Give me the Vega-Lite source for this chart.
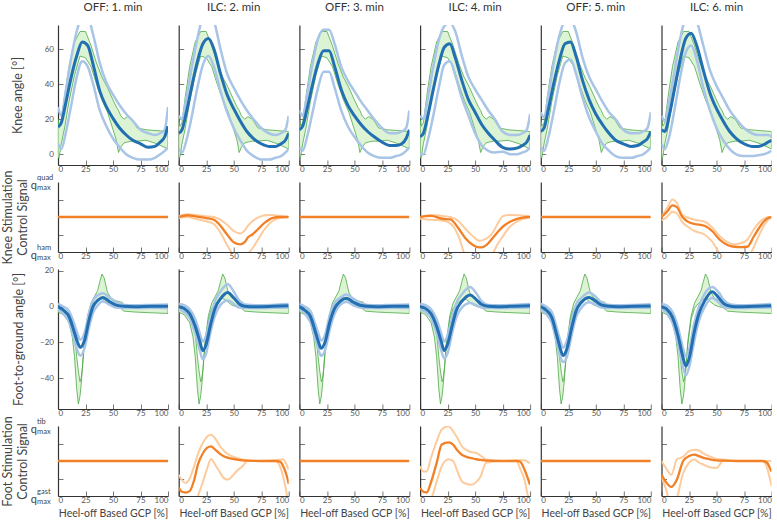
{
"$schema":"https://vega.github.io/schema/vega-lite/v6.json",
"padding":{"left":0,"top":1,"right":0,"bottom":0},
"bounds":"flush",
"columns":6,
"spacing":{"row":17,"column":10.7},
"config":{
 "view":{"stroke":null},
 "font":"Lato",
 "axis":{"grid":false,"domainColor":"#333","domainWidth":1.2,"tickColor":"#777","tickSize":-5,"tickWidth":1,"labelFontSize":8,"labelColor":"#555","labelPadding":9.5,"titleFontSize":12.5,"titleFontWeight":"normal","titleColor":"#444"},
 "axisX":{"labelPadding":5},
 "title":{"fontSize":11.5,"fontWeight":"normal","color":"#333","offset":12},
 "style":{"group-title":{"fontSize":11.5,"fontWeight":"normal","color":"#333"}}
},
"datasets":{
"kg":[{"x":0,"lo":-2,"hi":20},{"x":1,"lo":-2,"hi":16},{"x":3,"lo":6,"hi":18},{"x":6,"lo":15,"hi":33},{"x":10,"lo":30,"hi":50},{"x":15,"lo":45,"hi":64},{"x":20,"lo":56,"hi":70},{"x":25,"lo":55,"hi":70},{"x":30,"lo":50,"hi":62},{"x":35,"lo":40,"hi":52},{"x":40,"lo":31,"hi":44},{"x":45,"lo":24,"hi":38},{"x":50,"lo":14,"hi":31},{"x":53,"lo":8,"hi":27},{"x":55,"lo":1,"hi":25},{"x":57,"lo":4,"hi":22},{"x":60,"lo":6.5,"hi":20},{"x":63,"lo":7,"hi":21.5},{"x":67,"lo":7.5,"hi":20},{"x":72,"lo":7.5,"hi":15},{"x":80,"lo":8,"hi":14},{"x":90,"lo":6,"hi":13.5},{"x":100,"lo":3,"hi":13}],
"k":[
{"c":1,"x":0,"m":15.5,"lo":6,"hi":27},{"c":1,"x":3,"m":18,"lo":3,"hi":22},{"c":1,"x":7,"m":29,"lo":12,"hi":36},{"c":1,"x":12,"m":44,"lo":28,"hi":55},{"c":1,"x":17,"m":56,"lo":44,"hi":70},{"c":1,"x":22,"m":64,"lo":53,"hi":78},{"c":1,"x":27,"m":62,"lo":50,"hi":78},{"c":1,"x":32,"m":51,"lo":40,"hi":68},{"c":1,"x":38,"m":36,"lo":25,"hi":52},{"c":1,"x":44,"m":27,"lo":16,"hi":41},{"c":1,"x":50,"m":20.5,"lo":9,"hi":34},{"c":1,"x":56,"m":15,"lo":4,"hi":28},{"c":1,"x":62,"m":11,"lo":0,"hi":23},{"c":1,"x":68,"m":8,"lo":-2,"hi":19},{"c":1,"x":75,"m":6,"lo":-3,"hi":14},{"c":1,"x":82,"m":4,"lo":-3,"hi":12},{"c":1,"x":88,"m":4.5,"lo":-2,"hi":11},{"c":1,"x":93,"m":7,"lo":0,"hi":12},{"c":1,"x":97,"m":10,"lo":2,"hi":14},{"c":1,"x":100,"m":16,"lo":4,"hi":27},
{"c":2,"x":0,"m":12,"lo":3,"hi":22},{"c":2,"x":3,"m":14,"lo":1,"hi":20},{"c":2,"x":7,"m":24,"lo":8,"hi":32},{"c":2,"x":12,"m":39,"lo":22,"hi":50},{"c":2,"x":17,"m":53,"lo":38,"hi":66},{"c":2,"x":22,"m":63,"lo":51,"hi":78},{"c":2,"x":27,"m":66,"lo":56,"hi":80},{"c":2,"x":32,"m":60,"lo":50,"hi":76},{"c":2,"x":38,"m":46,"lo":36,"hi":60},{"c":2,"x":44,"m":34,"lo":24,"hi":46},{"c":2,"x":50,"m":26,"lo":15,"hi":38},{"c":2,"x":56,"m":19,"lo":8,"hi":31},{"c":2,"x":62,"m":13,"lo":2,"hi":25},{"c":2,"x":68,"m":9,"lo":-1,"hi":20},{"c":2,"x":75,"m":6,"lo":-3,"hi":15},{"c":2,"x":82,"m":4.5,"lo":-3,"hi":12},{"c":2,"x":88,"m":4.5,"lo":-2,"hi":11},{"c":2,"x":93,"m":6,"lo":-1,"hi":12},{"c":2,"x":97,"m":8,"lo":1,"hi":14},{"c":2,"x":100,"m":12,"lo":3,"hi":22},
{"c":3,"x":0,"m":14,"lo":4,"hi":25},{"c":3,"x":3,"m":16,"lo":2,"hi":22},{"c":3,"x":7,"m":26,"lo":10,"hi":34},{"c":3,"x":12,"m":40,"lo":24,"hi":52},{"c":3,"x":17,"m":52,"lo":38,"hi":66},{"c":3,"x":22,"m":59,"lo":47,"hi":71},{"c":3,"x":27,"m":59,"lo":47,"hi":71},{"c":3,"x":32,"m":50,"lo":38,"hi":63},{"c":3,"x":38,"m":37,"lo":25,"hi":50},{"c":3,"x":44,"m":28,"lo":16,"hi":42},{"c":3,"x":50,"m":22,"lo":10,"hi":36},{"c":3,"x":56,"m":17,"lo":5,"hi":30},{"c":3,"x":62,"m":13,"lo":1,"hi":25},{"c":3,"x":68,"m":10,"lo":-1,"hi":20},{"c":3,"x":75,"m":7,"lo":-2,"hi":15},{"c":3,"x":82,"m":5,"lo":-2,"hi":12},{"c":3,"x":88,"m":5,"lo":-1,"hi":12},{"c":3,"x":93,"m":6,"lo":0,"hi":13},{"c":3,"x":97,"m":9,"lo":2,"hi":15},{"c":3,"x":100,"m":14,"lo":4,"hi":25},
{"c":4,"x":0,"m":10,"lo":0,"hi":22},{"c":4,"x":3,"m":12,"lo":0,"hi":20},{"c":4,"x":7,"m":22,"lo":8,"hi":32},{"c":4,"x":12,"m":37,"lo":22,"hi":50},{"c":4,"x":17,"m":51,"lo":38,"hi":65},{"c":4,"x":22,"m":61,"lo":51,"hi":73},{"c":4,"x":27,"m":63,"lo":53,"hi":75},{"c":4,"x":32,"m":55,"lo":45,"hi":70},{"c":4,"x":38,"m":42,"lo":32,"hi":56},{"c":4,"x":44,"m":31,"lo":22,"hi":44},{"c":4,"x":50,"m":24,"lo":12,"hi":37},{"c":4,"x":56,"m":17,"lo":5,"hi":31},{"c":4,"x":62,"m":12,"lo":2,"hi":25},{"c":4,"x":68,"m":8,"lo":1,"hi":20},{"c":4,"x":75,"m":4,"lo":1.5,"hi":13},{"c":4,"x":82,"m":3,"lo":0,"hi":11},{"c":4,"x":88,"m":3.5,"lo":0,"hi":11},{"c":4,"x":93,"m":5,"lo":1,"hi":12},{"c":4,"x":97,"m":7,"lo":2,"hi":14},{"c":4,"x":100,"m":11,"lo":4,"hi":23},
{"c":5,"x":0,"m":13,"lo":4,"hi":24},{"c":5,"x":3,"m":15,"lo":2,"hi":21},{"c":5,"x":7,"m":26,"lo":10,"hi":34},{"c":5,"x":12,"m":41,"lo":25,"hi":53},{"c":5,"x":17,"m":54,"lo":41,"hi":68},{"c":5,"x":22,"m":63,"lo":52,"hi":76},{"c":5,"x":27,"m":64,"lo":54,"hi":77},{"c":5,"x":32,"m":56,"lo":46,"hi":70},{"c":5,"x":38,"m":42,"lo":32,"hi":55},{"c":5,"x":44,"m":31,"lo":21,"hi":44},{"c":5,"x":50,"m":23,"lo":13,"hi":37},{"c":5,"x":56,"m":17,"lo":6,"hi":30},{"c":5,"x":62,"m":12,"lo":2,"hi":24},{"c":5,"x":68,"m":8,"lo":-1,"hi":20},{"c":5,"x":75,"m":6,"lo":-2,"hi":14},{"c":5,"x":82,"m":4.5,"lo":-2,"hi":12},{"c":5,"x":88,"m":5,"lo":-1,"hi":12},{"c":5,"x":93,"m":7,"lo":0,"hi":13},{"c":5,"x":97,"m":9,"lo":2,"hi":15},{"c":5,"x":100,"m":13,"lo":4,"hi":24},
{"c":6,"x":0,"m":14,"lo":6,"hi":22},{"c":6,"x":3,"m":13,"lo":3,"hi":19},{"c":6,"x":7,"m":22,"lo":10,"hi":30},{"c":6,"x":12,"m":38,"lo":26,"hi":48},{"c":6,"x":17,"m":54,"lo":44,"hi":66},{"c":6,"x":22,"m":66,"lo":58,"hi":78},{"c":6,"x":27,"m":69,"lo":62,"hi":82},{"c":6,"x":32,"m":62,"lo":54,"hi":76},{"c":6,"x":38,"m":48,"lo":38,"hi":62},{"c":6,"x":44,"m":35,"lo":25,"hi":48},{"c":6,"x":50,"m":26,"lo":15,"hi":39},{"c":6,"x":56,"m":19,"lo":8,"hi":32},{"c":6,"x":62,"m":13,"lo":3,"hi":25},{"c":6,"x":68,"m":9,"lo":0,"hi":20},{"c":6,"x":75,"m":6,"lo":-1,"hi":15},{"c":6,"x":82,"m":4.5,"lo":-1,"hi":12},{"c":6,"x":88,"m":4.5,"lo":-0.5,"hi":11},{"c":6,"x":93,"m":5.5,"lo":0,"hi":11},{"c":6,"x":97,"m":7,"lo":1,"hi":11},{"c":6,"x":100,"m":8,"lo":2,"hi":10}
],
"ks":[
{"c":1,"x":0,"m":0},{"c":1,"x":100,"m":0},{"c":3,"x":0,"m":0},{"c":3,"x":100,"m":0},{"c":5,"x":0,"m":0},{"c":5,"x":100,"m":0},
{"c":2,"x":0,"m":0,"hi":0.02,"lo":-0.03},{"c":2,"x":8,"m":0.05,"hi":0.08,"lo":0},{"c":2,"x":15,"m":0.02,"hi":0.06,"lo":-0.05},{"c":2,"x":25,"m":-0.03,"hi":0.02,"lo":-0.12},{"c":2,"x":32,"m":-0.08,"hi":0,"lo":-0.2},{"c":2,"x":38,"m":-0.25,"hi":-0.08,"lo":-0.45},{"c":2,"x":44,"m":-0.5,"hi":-0.22,"lo":-0.8},{"c":2,"x":50,"m":-0.72,"hi":-0.4,"lo":-1.1},{"c":2,"x":56,"m":-0.78,"hi":-0.47,"lo":-1.2},{"c":2,"x":60,"m":-0.72,"hi":-0.38,"lo":-1.15},{"c":2,"x":63,"m":-0.58,"hi":-0.25,"lo":-1.05},{"c":2,"x":67,"m":-0.5,"hi":-0.12,"lo":-0.9},{"c":2,"x":72,"m":-0.35,"hi":-0.02,"lo":-0.65},{"c":2,"x":78,"m":-0.17,"hi":0.05,"lo":-0.35},{"c":2,"x":85,"m":-0.03,"hi":0.06,"lo":-0.12},{"c":2,"x":92,"m":0,"hi":0.03,"lo":-0.03},{"c":2,"x":100,"m":0,"hi":0,"lo":0},
{"c":4,"x":0,"m":0,"hi":0,"lo":-0.05},{"c":4,"x":10,"m":0.03,"hi":0.06,"lo":-0.08},{"c":4,"x":20,"m":-0.05,"hi":0.03,"lo":-0.1},{"c":4,"x":27.5,"m":-0.07,"hi":0,"lo":-0.18},{"c":4,"x":35,"m":-0.33,"hi":-0.12,"lo":-0.55},{"c":4,"x":41,"m":-0.6,"hi":-0.33,"lo":-1.1},{"c":4,"x":48,"m":-0.8,"hi":-0.55,"lo":-1.3},{"c":4,"x":54,"m":-0.87,"hi":-0.68,"lo":-1.3},{"c":4,"x":57,"m":-0.86,"hi":-0.66,"lo":-1.3},{"c":4,"x":62,"m":-0.75,"hi":-0.58,"lo":-1.2},{"c":4,"x":66,"m":-0.6,"hi":-0.45,"lo":-1.05},{"c":4,"x":70,"m":-0.45,"hi":-0.22,"lo":-0.8},{"c":4,"x":75,"m":-0.28,"hi":0.02,"lo":-0.56},{"c":4,"x":81,"m":-0.15,"hi":0.06,"lo":-0.3},{"c":4,"x":87,"m":-0.07,"hi":0.05,"lo":-0.15},{"c":4,"x":93,"m":-0.02,"hi":0.04,"lo":-0.06},{"c":4,"x":98,"m":0,"hi":0.02,"lo":-0.02},{"c":4,"x":100,"m":0,"hi":0,"lo":0},
{"c":6,"x":0,"m":0,"hi":0,"lo":-0.1},{"c":6,"x":5,"m":0.15,"hi":0.25,"lo":0},{"c":6,"x":10,"m":0.33,"hi":0.5,"lo":0.15},{"c":6,"x":14,"m":0.28,"hi":0.4,"lo":0.1},{"c":6,"x":19,"m":0,"hi":0.05,"lo":-0.15},{"c":6,"x":25,"m":-0.15,"hi":-0.03,"lo":-0.3},{"c":6,"x":30,"m":-0.2,"hi":-0.08,"lo":-0.4},{"c":6,"x":39,"m":-0.25,"hi":-0.13,"lo":-0.5},{"c":6,"x":46,"m":-0.4,"hi":-0.3,"lo":-0.7},{"c":6,"x":53,"m":-0.65,"hi":-0.55,"lo":-1.05},{"c":6,"x":60,"m":-0.8,"hi":-0.72,"lo":-1.3},{"c":6,"x":66,"m":-0.85,"hi":-0.78,"lo":-1.3},{"c":6,"x":72,"m":-0.86,"hi":-0.75,"lo":-1.3},{"c":6,"x":78,"m":-0.85,"hi":-0.65,"lo":-1.2},{"c":6,"x":84,"m":-0.55,"hi":-0.35,"lo":-0.85},{"c":6,"x":89,"m":-0.3,"hi":-0.15,"lo":-0.5},{"c":6,"x":93,"m":-0.13,"hi":-0.05,"lo":-0.25},{"c":6,"x":97,"m":-0.03,"hi":0,"lo":-0.08},{"c":6,"x":100,"m":0,"hi":0,"lo":0}
],
"fg":[{"x":0,"lo":-3,"hi":0},{"x":5,"lo":-4.5,"hi":-1},{"x":10,"lo":-9,"hi":-4},{"x":13,"lo":-17,"hi":-8},{"x":15,"lo":-28,"hi":-14},{"x":17,"lo":-46,"hi":-28},{"x":18.5,"lo":-54.5,"hi":-36},{"x":20,"lo":-50,"hi":-42},{"x":21,"lo":-44,"hi":-40},{"x":22,"lo":-36,"hi":-35},{"x":24,"lo":-21,"hi":-19},{"x":27,"lo":-7,"hi":-5},{"x":30,"lo":-1,"hi":2},{"x":33,"lo":1.5,"hi":5.5},{"x":36,"lo":3,"hi":9},{"x":38,"lo":4,"hi":14},{"x":40,"lo":4.5,"hi":18.3},{"x":42,"lo":4,"hi":16},{"x":45,"lo":2.5,"hi":8},{"x":48,"lo":1,"hi":5},{"x":52,"lo":0,"hi":3.5},{"x":56,"lo":-0.5,"hi":2.8},{"x":58,"lo":-1.5,"hi":2.5},{"x":59,"lo":-2,"hi":2},{"x":60,"lo":-2.5,"hi":0},{"x":70,"lo":-3,"hi":0},{"x":80,"lo":-3.3,"hi":0},{"x":100,"lo":-3.8,"hi":0}],
"f":[
{"c":1,"x":0,"m":0,"hi":1.5,"lo":-1.5},{"c":1,"x":5,"m":-2,"hi":0,"lo":-4},{"c":1,"x":10,"m":-5.5,"hi":-2.5,"lo":-8.5},{"c":1,"x":14.7,"m":-14,"hi":-9.5,"lo":-18.5},{"c":1,"x":17.6,"m":-19.6,"hi":-15,"lo":-24.5},{"c":1,"x":20.2,"m":-22.8,"hi":-18.5,"lo":-27.5},{"c":1,"x":24.2,"m":-18.7,"hi":-14.5,"lo":-23},{"c":1,"x":28.2,"m":-7.5,"hi":-3.5,"lo":-11.5},{"c":1,"x":31.8,"m":0,"hi":3.5,"lo":-3.5},{"c":1,"x":36.4,"m":3.7,"hi":6.5,"lo":1},{"c":1,"x":41,"m":5.2,"hi":7.5,"lo":3},{"c":1,"x":47,"m":2.8,"hi":5,"lo":1},{"c":1,"x":53,"m":0.9,"hi":2.5,"lo":-0.5},{"c":1,"x":60,"m":0.2,"hi":1,"lo":-0.7},{"c":1,"x":70,"m":0,"hi":0.8,"lo":-0.8},{"c":1,"x":85,"m":0.3,"hi":1,"lo":-0.6},{"c":1,"x":100,"m":0.3,"hi":1.2,"lo":-0.8},
{"c":2,"x":0,"m":0,"hi":1.5,"lo":-1.5},{"c":2,"x":5,"m":-1,"hi":0.8,"lo":-3},{"c":2,"x":10,"m":-4,"hi":-1.5,"lo":-6.5},{"c":2,"x":15,"m":-11,"hi":-7,"lo":-15},{"c":2,"x":19,"m":-19,"hi":-14.5,"lo":-24},{"c":2,"x":22,"m":-24.6,"hi":-19.5,"lo":-29.5},{"c":2,"x":25,"m":-21,"hi":-16,"lo":-26},{"c":2,"x":29,"m":-10,"hi":-5.5,"lo":-14},{"c":2,"x":33,"m":-1,"hi":3,"lo":-5},{"c":2,"x":38,"m":4.5,"hi":8.5,"lo":1},{"c":2,"x":44.6,"m":8,"hi":12.5,"lo":3.5},{"c":2,"x":50,"m":5,"hi":8.5,"lo":1.5},{"c":2,"x":55,"m":1.5,"hi":3.5,"lo":-0.5},{"c":2,"x":60,"m":0.3,"hi":1.2,"lo":-0.7},{"c":2,"x":70,"m":0,"hi":0.8,"lo":-0.8},{"c":2,"x":85,"m":0.2,"hi":1,"lo":-0.6},{"c":2,"x":100,"m":0.5,"hi":1.5,"lo":-0.5},
{"c":3,"x":0,"m":0,"hi":1.5,"lo":-1.5},{"c":3,"x":5,"m":-2,"hi":0,"lo":-4},{"c":3,"x":10,"m":-5.5,"hi":-2.5,"lo":-8.5},{"c":3,"x":14.5,"m":-14,"hi":-10,"lo":-18},{"c":3,"x":17.5,"m":-20,"hi":-15.5,"lo":-24.5},{"c":3,"x":19.7,"m":-23.3,"hi":-19,"lo":-27.5},{"c":3,"x":23.5,"m":-19.5,"hi":-15.5,"lo":-24},{"c":3,"x":27.5,"m":-9,"hi":-5,"lo":-13},{"c":3,"x":32,"m":-1,"hi":2,"lo":-4},{"c":3,"x":37,"m":3,"hi":5,"lo":1},{"c":3,"x":43,"m":4.7,"hi":6.8,"lo":2.7},{"c":3,"x":49,"m":2.5,"hi":4.5,"lo":0.8},{"c":3,"x":55,"m":0.8,"hi":2.2,"lo":-0.4},{"c":3,"x":62,"m":0.2,"hi":1,"lo":-0.7},{"c":3,"x":70,"m":0,"hi":0.8,"lo":-0.8},{"c":3,"x":85,"m":0.3,"hi":1,"lo":-0.6},{"c":3,"x":100,"m":0.3,"hi":1.2,"lo":-0.8},
{"c":4,"x":0,"m":0,"hi":1.5,"lo":-1.5},{"c":4,"x":5,"m":-1,"hi":0.8,"lo":-3},{"c":4,"x":10,"m":-4,"hi":-1.5,"lo":-6.5},{"c":4,"x":15,"m":-11,"hi":-7,"lo":-15},{"c":4,"x":19,"m":-19,"hi":-14.5,"lo":-24},{"c":4,"x":22,"m":-24.6,"hi":-19.5,"lo":-29},{"c":4,"x":25,"m":-21,"hi":-16,"lo":-26},{"c":4,"x":29,"m":-11,"hi":-6.5,"lo":-15},{"c":4,"x":33,"m":-2,"hi":2,"lo":-6},{"c":4,"x":38,"m":3,"hi":7,"lo":-0.5},{"c":4,"x":45.5,"m":6.6,"hi":11,"lo":2},{"c":4,"x":51,"m":4,"hi":7.5,"lo":0.8},{"c":4,"x":56,"m":1.2,"hi":3,"lo":-0.4},{"c":4,"x":62,"m":0.2,"hi":1,"lo":-0.7},{"c":4,"x":70,"m":0,"hi":0.8,"lo":-0.8},{"c":4,"x":85,"m":0.3,"hi":1,"lo":-0.6},{"c":4,"x":100,"m":0.5,"hi":1.5,"lo":-0.5},
{"c":5,"x":0,"m":0,"hi":1.5,"lo":-1.5},{"c":5,"x":5,"m":-2,"hi":0,"lo":-4},{"c":5,"x":10,"m":-6,"hi":-3,"lo":-9},{"c":5,"x":14.5,"m":-16,"hi":-12,"lo":-20},{"c":5,"x":17.5,"m":-23,"hi":-18.5,"lo":-27.5},{"c":5,"x":20.3,"m":-27.4,"hi":-23,"lo":-31},{"c":5,"x":24,"m":-23,"hi":-18.5,"lo":-27.5},{"c":5,"x":28,"m":-12,"hi":-8,"lo":-16},{"c":5,"x":32,"m":-2.5,"hi":1,"lo":-6},{"c":5,"x":37,"m":2.5,"hi":5,"lo":-0.5},{"c":5,"x":44,"m":5.2,"hi":8,"lo":2.5},{"c":5,"x":50,"m":3,"hi":5.5,"lo":1},{"c":5,"x":55,"m":1,"hi":2.5,"lo":-0.5},{"c":5,"x":62,"m":0.2,"hi":1,"lo":-0.7},{"c":5,"x":70,"m":0,"hi":0.8,"lo":-0.8},{"c":5,"x":85,"m":0.3,"hi":1,"lo":-0.6},{"c":5,"x":100,"m":0.4,"hi":1.3,"lo":-0.6},
{"c":6,"x":0,"m":0,"hi":1.5,"lo":-1.5},{"c":6,"x":5,"m":-1.5,"hi":0.5,"lo":-3.5},{"c":6,"x":10,"m":-6,"hi":-3,"lo":-9},{"c":6,"x":15,"m":-16,"hi":-11.5,"lo":-20.5},{"c":6,"x":19,"m":-27,"hi":-22,"lo":-32},{"c":6,"x":22.2,"m":-33.2,"hi":-28,"lo":-38.5},{"c":6,"x":25.5,"m":-28,"hi":-23,"lo":-33},{"c":6,"x":29.5,"m":-15,"hi":-10,"lo":-20},{"c":6,"x":34,"m":-4,"hi":0,"lo":-8},{"c":6,"x":39,"m":3,"hi":7,"lo":-0.5},{"c":6,"x":46,"m":8.4,"hi":11,"lo":5},{"c":6,"x":52,"m":5,"hi":8,"lo":2.5},{"c":6,"x":57,"m":1.5,"hi":3.5,"lo":-0.3},{"c":6,"x":63,"m":0.3,"hi":1.2,"lo":-0.7},{"c":6,"x":70,"m":0,"hi":0.8,"lo":-0.8},{"c":6,"x":85,"m":0.3,"hi":1,"lo":-0.6},{"c":6,"x":100,"m":0.5,"hi":1.5,"lo":-0.5}
],
"fs":[
{"c":1,"x":0,"m":0},{"c":1,"x":100,"m":0},{"c":3,"x":0,"m":0},{"c":3,"x":100,"m":0},{"c":5,"x":0,"m":0},{"c":5,"x":100,"m":0},
{"c":2,"x":0,"m":-0.77,"hi":-0.39,"lo":-1.3},{"c":2,"x":3,"m":-0.88,"hi":-0.55,"lo":-1.3},{"c":2,"x":6,"m":-0.9,"hi":-0.63,"lo":-1.3},{"c":2,"x":10,"m":-0.86,"hi":-0.5,"lo":-1.3},{"c":2,"x":14,"m":-0.55,"hi":-0.15,"lo":-1.3},{"c":2,"x":17.5,"m":-0.1,"hi":0.2,"lo":-1},{"c":2,"x":22,"m":0.22,"hi":0.52,"lo":-0.6},{"c":2,"x":26,"m":0.38,"hi":0.7,"lo":-0.2},{"c":2,"x":29.4,"m":0.42,"hi":0.75,"lo":0.06},{"c":2,"x":33,"m":0.33,"hi":0.65,"lo":-0.1},{"c":2,"x":37,"m":0.22,"hi":0.45,"lo":-0.3},{"c":2,"x":41.5,"m":0.13,"hi":0.28,"lo":-0.5},{"c":2,"x":45,"m":0.09,"hi":0.19,"lo":-0.53},{"c":2,"x":49,"m":0.06,"hi":0.13,"lo":-0.42},{"c":2,"x":53,"m":0.04,"hi":0.09,"lo":-0.28},{"c":2,"x":58,"m":0.02,"hi":0.04,"lo":-0.15},{"c":2,"x":62.5,"m":0.01,"hi":0.02,"lo":0},{"c":2,"x":75,"m":0,"hi":0,"lo":0},{"c":2,"x":88,"m":0,"hi":0.02,"lo":0},{"c":2,"x":92,"m":-0.02,"hi":0.04,"lo":-0.15},{"c":2,"x":95,"m":-0.15,"hi":0.04,"lo":-0.45},{"c":2,"x":98,"m":-0.4,"hi":-0.1,"lo":-0.9},{"c":2,"x":100,"m":-0.65,"hi":-0.25,"lo":-1.3},
{"c":4,"x":0,"m":-0.77,"hi":-0.15,"lo":-1.3},{"c":4,"x":3,"m":-0.88,"hi":-0.3,"lo":-1.3},{"c":4,"x":6,"m":-0.9,"hi":-0.3,"lo":-1.3},{"c":4,"x":10,"m":-0.6,"hi":0.1,"lo":-1.1},{"c":4,"x":15,"m":-0.06,"hi":0.56,"lo":-0.6},{"c":4,"x":19.7,"m":0.47,"hi":0.9,"lo":-0.15},{"c":4,"x":25.8,"m":0.53,"hi":0.99,"lo":0.05},{"c":4,"x":30,"m":0.47,"hi":0.85,"lo":0},{"c":4,"x":34,"m":0.3,"hi":0.65,"lo":-0.3},{"c":4,"x":38,"m":0.18,"hi":0.42,"lo":-0.58},{"c":4,"x":42,"m":0.12,"hi":0.32,"lo":-0.65},{"c":4,"x":47,"m":0.08,"hi":0.25,"lo":-0.68},{"c":4,"x":51,"m":0.05,"hi":0.23,"lo":-0.6},{"c":4,"x":55,"m":0.03,"hi":0.15,"lo":-0.44},{"c":4,"x":60,"m":0.01,"hi":0.04,"lo":-0.05},{"c":4,"x":75,"m":0,"hi":0,"lo":0},{"c":4,"x":88,"m":0,"hi":0.02,"lo":0},{"c":4,"x":90.6,"m":-0.01,"hi":0.02,"lo":-0.2},{"c":4,"x":95,"m":-0.25,"hi":0.02,"lo":-0.55},{"c":4,"x":98,"m":-0.5,"hi":-0.03,"lo":-1},{"c":4,"x":100,"m":-0.68,"hi":-0.06,"lo":-1.3},
{"c":6,"x":0,"m":-0.39,"hi":0,"lo":-0.44},{"c":6,"x":4,"m":-0.6,"hi":-0.2,"lo":-0.8},{"c":6,"x":9,"m":-0.74,"hi":-0.39,"lo":-1.3},{"c":6,"x":14,"m":-0.53,"hi":0.05,"lo":-1.05},{"c":6,"x":19.7,"m":0,"hi":0.12,"lo":-0.35},{"c":6,"x":25,"m":0.14,"hi":0.28,"lo":-0.05},{"c":6,"x":30,"m":0.18,"hi":0.32,"lo":0.04},{"c":6,"x":34,"m":0.14,"hi":0.3,"lo":-0.05},{"c":6,"x":38,"m":0.09,"hi":0.22,"lo":-0.1},{"c":6,"x":44,"m":0.05,"hi":0.13,"lo":-0.18},{"c":6,"x":50,"m":0.02,"hi":0.06,"lo":-0.2},{"c":6,"x":56,"m":0.01,"hi":0.04,"lo":0},{"c":6,"x":70,"m":0,"hi":0,"lo":0},{"c":6,"x":85,"m":0,"hi":0,"lo":0},{"c":6,"x":92,"m":0,"hi":0,"lo":0},{"c":6,"x":96,"m":-0.05,"hi":0,"lo":-0.2},{"c":6,"x":98.5,"m":-0.2,"hi":0,"lo":-0.5},{"c":6,"x":100,"m":-0.3,"hi":0,"lo":-0.72}
],
"q":[{"r":"k","x":0,"y":1,"sup":"quad","sub":"max"},{"r":"k","x":0,"y":-1,"sup":"ham","sub":"max"},{"r":"f","x":0,"y":1,"sup":"tib","sub":"max"},{"r":"f","x":0,"y":-1,"sup":"gast","sub":"max"}]
},
"concat":[
 {"width":110,"height":140,"title":"OFF: 1. min","encoding":{"x":{"field":"x","type":"quantitative","scale":{"domain":[0,100],"nice":false},"axis":{"values":[0,25,50,75,100],"title":null}}},"layer":[
  {"data":{"name":"kg"},"mark":{"type":"area","fill":"#dcf3d4","stroke":"#4caa46","strokeWidth":0.8,"clip":true},"encoding":{"y":{"field":"lo","type":"quantitative","scale":{"domain":[-6.1,73.7],"nice":false,"zero":false},"axis":{"values":[0,20,40,60],"title":"Knee angle [°]","titleX":-37,"titleBaseline":"alphabetic"}},"y2":{"field":"hi"}}},
  {"data":{"name":"k"},"transform":[{"filter":"datum.c==1"}],"mark":{"type":"line","stroke":"#a8c4e6","strokeWidth":2.5,"interpolate":"monotone","clip":true},"encoding":{"y":{"field":"lo","type":"quantitative"}}},
  {"data":{"name":"k"},"transform":[{"filter":"datum.c==1"}],"mark":{"type":"line","stroke":"#a8c4e6","strokeWidth":2.5,"interpolate":"monotone","clip":true},"encoding":{"y":{"field":"hi","type":"quantitative"}}},
  {"data":{"name":"k"},"transform":[{"filter":"datum.c==1"}],"mark":{"type":"line","stroke":"#2270b2","strokeWidth":3,"interpolate":"monotone","clip":true},"encoding":{"y":{"field":"m","type":"quantitative"}}}]},
 {"width":110,"height":140,"title":"ILC: 2. min","encoding":{"x":{"field":"x","type":"quantitative","scale":{"domain":[0,100],"nice":false},"axis":{"values":[0,25,50,75,100],"title":null}}},"layer":[
  {"data":{"name":"kg"},"mark":{"type":"area","fill":"#dcf3d4","stroke":"#4caa46","strokeWidth":0.8,"clip":true},"encoding":{"y":{"field":"lo","type":"quantitative","scale":{"domain":[-6.1,73.7],"nice":false,"zero":false},"axis":{"values":[0,20,40,60],"title":null,"labels":false}},"y2":{"field":"hi"}}},
  {"data":{"name":"k"},"transform":[{"filter":"datum.c==2"}],"mark":{"type":"line","stroke":"#a8c4e6","strokeWidth":2.5,"interpolate":"monotone","clip":true},"encoding":{"y":{"field":"lo","type":"quantitative"}}},
  {"data":{"name":"k"},"transform":[{"filter":"datum.c==2"}],"mark":{"type":"line","stroke":"#a8c4e6","strokeWidth":2.5,"interpolate":"monotone","clip":true},"encoding":{"y":{"field":"hi","type":"quantitative"}}},
  {"data":{"name":"k"},"transform":[{"filter":"datum.c==2"}],"mark":{"type":"line","stroke":"#2270b2","strokeWidth":3,"interpolate":"monotone","clip":true},"encoding":{"y":{"field":"m","type":"quantitative"}}}]},
 {"width":110,"height":140,"title":"OFF: 3. min","encoding":{"x":{"field":"x","type":"quantitative","scale":{"domain":[0,100],"nice":false},"axis":{"values":[0,25,50,75,100],"title":null}}},"layer":[
  {"data":{"name":"kg"},"mark":{"type":"area","fill":"#dcf3d4","stroke":"#4caa46","strokeWidth":0.8,"clip":true},"encoding":{"y":{"field":"lo","type":"quantitative","scale":{"domain":[-6.1,73.7],"nice":false,"zero":false},"axis":{"values":[0,20,40,60],"title":null,"labels":false}},"y2":{"field":"hi"}}},
  {"data":{"name":"k"},"transform":[{"filter":"datum.c==3"}],"mark":{"type":"line","stroke":"#a8c4e6","strokeWidth":2.5,"interpolate":"monotone","clip":true},"encoding":{"y":{"field":"lo","type":"quantitative"}}},
  {"data":{"name":"k"},"transform":[{"filter":"datum.c==3"}],"mark":{"type":"line","stroke":"#a8c4e6","strokeWidth":2.5,"interpolate":"monotone","clip":true},"encoding":{"y":{"field":"hi","type":"quantitative"}}},
  {"data":{"name":"k"},"transform":[{"filter":"datum.c==3"}],"mark":{"type":"line","stroke":"#2270b2","strokeWidth":3,"interpolate":"monotone","clip":true},"encoding":{"y":{"field":"m","type":"quantitative"}}}]},
 {"width":110,"height":140,"title":"ILC: 4. min","encoding":{"x":{"field":"x","type":"quantitative","scale":{"domain":[0,100],"nice":false},"axis":{"values":[0,25,50,75,100],"title":null}}},"layer":[
  {"data":{"name":"kg"},"mark":{"type":"area","fill":"#dcf3d4","stroke":"#4caa46","strokeWidth":0.8,"clip":true},"encoding":{"y":{"field":"lo","type":"quantitative","scale":{"domain":[-6.1,73.7],"nice":false,"zero":false},"axis":{"values":[0,20,40,60],"title":null,"labels":false}},"y2":{"field":"hi"}}},
  {"data":{"name":"k"},"transform":[{"filter":"datum.c==4"}],"mark":{"type":"line","stroke":"#a8c4e6","strokeWidth":2.5,"interpolate":"monotone","clip":true},"encoding":{"y":{"field":"lo","type":"quantitative"}}},
  {"data":{"name":"k"},"transform":[{"filter":"datum.c==4"}],"mark":{"type":"line","stroke":"#a8c4e6","strokeWidth":2.5,"interpolate":"monotone","clip":true},"encoding":{"y":{"field":"hi","type":"quantitative"}}},
  {"data":{"name":"k"},"transform":[{"filter":"datum.c==4"}],"mark":{"type":"line","stroke":"#2270b2","strokeWidth":3,"interpolate":"monotone","clip":true},"encoding":{"y":{"field":"m","type":"quantitative"}}}]},
 {"width":110,"height":140,"title":"OFF: 5. min","encoding":{"x":{"field":"x","type":"quantitative","scale":{"domain":[0,100],"nice":false},"axis":{"values":[0,25,50,75,100],"title":null}}},"layer":[
  {"data":{"name":"kg"},"mark":{"type":"area","fill":"#dcf3d4","stroke":"#4caa46","strokeWidth":0.8,"clip":true},"encoding":{"y":{"field":"lo","type":"quantitative","scale":{"domain":[-6.1,73.7],"nice":false,"zero":false},"axis":{"values":[0,20,40,60],"title":null,"labels":false}},"y2":{"field":"hi"}}},
  {"data":{"name":"k"},"transform":[{"filter":"datum.c==5"}],"mark":{"type":"line","stroke":"#a8c4e6","strokeWidth":2.5,"interpolate":"monotone","clip":true},"encoding":{"y":{"field":"lo","type":"quantitative"}}},
  {"data":{"name":"k"},"transform":[{"filter":"datum.c==5"}],"mark":{"type":"line","stroke":"#a8c4e6","strokeWidth":2.5,"interpolate":"monotone","clip":true},"encoding":{"y":{"field":"hi","type":"quantitative"}}},
  {"data":{"name":"k"},"transform":[{"filter":"datum.c==5"}],"mark":{"type":"line","stroke":"#2270b2","strokeWidth":3,"interpolate":"monotone","clip":true},"encoding":{"y":{"field":"m","type":"quantitative"}}}]},
 {"width":110,"height":140,"title":"ILC: 6. min","encoding":{"x":{"field":"x","type":"quantitative","scale":{"domain":[0,100],"nice":false},"axis":{"values":[0,25,50,75,100],"title":null}}},"layer":[
  {"data":{"name":"kg"},"mark":{"type":"area","fill":"#dcf3d4","stroke":"#4caa46","strokeWidth":0.8,"clip":true},"encoding":{"y":{"field":"lo","type":"quantitative","scale":{"domain":[-6.1,73.7],"nice":false,"zero":false},"axis":{"values":[0,20,40,60],"title":null,"labels":false}},"y2":{"field":"hi"}}},
  {"data":{"name":"k"},"transform":[{"filter":"datum.c==6"}],"mark":{"type":"line","stroke":"#a8c4e6","strokeWidth":2.5,"interpolate":"monotone","clip":true},"encoding":{"y":{"field":"lo","type":"quantitative"}}},
  {"data":{"name":"k"},"transform":[{"filter":"datum.c==6"}],"mark":{"type":"line","stroke":"#a8c4e6","strokeWidth":2.5,"interpolate":"monotone","clip":true},"encoding":{"y":{"field":"hi","type":"quantitative"}}},
  {"data":{"name":"k"},"transform":[{"filter":"datum.c==6"}],"mark":{"type":"line","stroke":"#2270b2","strokeWidth":3,"interpolate":"monotone","clip":true},"encoding":{"y":{"field":"m","type":"quantitative"}}}]},
 {"width":110,"height":70,"encoding":{"x":{"field":"x","type":"quantitative","scale":{"domain":[0,100],"nice":false},"axis":{"values":[0,25,50,75,100],"title":null}}},"layer":[
  {"data":{"name":"ks"},"transform":[{"filter":"datum.c==1"}],"mark":{"type":"line","stroke":"#f28027","strokeWidth":2.3,"clip":true},"encoding":{"y":{"field":"m","type":"quantitative","scale":{"domain":[-1,1],"nice":false,"zero":false},"axis":{"values":[-0.5,0,0.5],"labelExpr":"datum.value==0?'0':''","title":["Knee Stimulation","Control Signal"],"titleX":-47,"titleBaseline":"alphabetic","titleLineHeight":15}}}},
  {"data":{"name":"q"},"transform":[{"filter":"datum.r=='k'"}],"mark":{"type":"text","text":"q","align":"right","baseline":"middle","dx":-21,"dy":4,"fontSize":11,"fill":"#444"},"encoding":{"y":{"field":"y","type":"quantitative"}}},
  {"data":{"name":"q"},"transform":[{"filter":"datum.r=='k'"}],"mark":{"type":"text","align":"left","baseline":"middle","dx":-21,"dy":-4,"fontSize":7.5,"fill":"#444"},"encoding":{"y":{"field":"y","type":"quantitative"},"text":{"field":"sup"}}},
  {"data":{"name":"q"},"transform":[{"filter":"datum.r=='k'"}],"mark":{"type":"text","align":"left","baseline":"middle","dx":-21,"dy":6,"fontSize":7.5,"fill":"#444"},"encoding":{"y":{"field":"y","type":"quantitative"},"text":{"field":"sub"}}}]},
 {"width":110,"height":70,"encoding":{"x":{"field":"x","type":"quantitative","scale":{"domain":[0,100],"nice":false},"axis":{"values":[0,25,50,75,100],"title":null}}},"layer":[
  {"data":{"name":"ks"},"transform":[{"filter":"datum.c==2"}],"mark":{"type":"line","stroke":"#fdcb9c","strokeWidth":2,"interpolate":"monotone","clip":true},"encoding":{"y":{"field":"lo","type":"quantitative","scale":{"domain":[-1,1],"nice":false,"zero":false},"axis":{"values":[-0.5,0,0.5],"labels":false,"title":null}}}},
  {"data":{"name":"ks"},"transform":[{"filter":"datum.c==2"}],"mark":{"type":"line","stroke":"#fdcb9c","strokeWidth":2,"interpolate":"monotone","clip":true},"encoding":{"y":{"field":"hi","type":"quantitative"}}},
  {"data":{"name":"ks"},"transform":[{"filter":"datum.c==2"}],"mark":{"type":"line","stroke":"#f28027","strokeWidth":2.3,"interpolate":"monotone","clip":true},"encoding":{"y":{"field":"m","type":"quantitative"}}}]},
 {"width":110,"height":70,"encoding":{"x":{"field":"x","type":"quantitative","scale":{"domain":[0,100],"nice":false},"axis":{"values":[0,25,50,75,100],"title":null}}},"layer":[
  {"data":{"name":"ks"},"transform":[{"filter":"datum.c==3"}],"mark":{"type":"line","stroke":"#f28027","strokeWidth":2.3,"clip":true},"encoding":{"y":{"field":"m","type":"quantitative","scale":{"domain":[-1,1],"nice":false,"zero":false},"axis":{"values":[-0.5,0,0.5],"labels":false,"title":null}}}}]},
 {"width":110,"height":70,"encoding":{"x":{"field":"x","type":"quantitative","scale":{"domain":[0,100],"nice":false},"axis":{"values":[0,25,50,75,100],"title":null}}},"layer":[
  {"data":{"name":"ks"},"transform":[{"filter":"datum.c==4"}],"mark":{"type":"line","stroke":"#fdcb9c","strokeWidth":2,"interpolate":"monotone","clip":true},"encoding":{"y":{"field":"lo","type":"quantitative","scale":{"domain":[-1,1],"nice":false,"zero":false},"axis":{"values":[-0.5,0,0.5],"labels":false,"title":null}}}},
  {"data":{"name":"ks"},"transform":[{"filter":"datum.c==4"}],"mark":{"type":"line","stroke":"#fdcb9c","strokeWidth":2,"interpolate":"monotone","clip":true},"encoding":{"y":{"field":"hi","type":"quantitative"}}},
  {"data":{"name":"ks"},"transform":[{"filter":"datum.c==4"}],"mark":{"type":"line","stroke":"#f28027","strokeWidth":2.3,"interpolate":"monotone","clip":true},"encoding":{"y":{"field":"m","type":"quantitative"}}}]},
 {"width":110,"height":70,"encoding":{"x":{"field":"x","type":"quantitative","scale":{"domain":[0,100],"nice":false},"axis":{"values":[0,25,50,75,100],"title":null}}},"layer":[
  {"data":{"name":"ks"},"transform":[{"filter":"datum.c==5"}],"mark":{"type":"line","stroke":"#f28027","strokeWidth":2.3,"clip":true},"encoding":{"y":{"field":"m","type":"quantitative","scale":{"domain":[-1,1],"nice":false,"zero":false},"axis":{"values":[-0.5,0,0.5],"labels":false,"title":null}}}}]},
 {"width":110,"height":70,"encoding":{"x":{"field":"x","type":"quantitative","scale":{"domain":[0,100],"nice":false},"axis":{"values":[0,25,50,75,100],"title":null}}},"layer":[
  {"data":{"name":"ks"},"transform":[{"filter":"datum.c==6"}],"mark":{"type":"line","stroke":"#fdcb9c","strokeWidth":2,"interpolate":"monotone","clip":true},"encoding":{"y":{"field":"lo","type":"quantitative","scale":{"domain":[-1,1],"nice":false,"zero":false},"axis":{"values":[-0.5,0,0.5],"labels":false,"title":null}}}},
  {"data":{"name":"ks"},"transform":[{"filter":"datum.c==6"}],"mark":{"type":"line","stroke":"#fdcb9c","strokeWidth":2,"interpolate":"monotone","clip":true},"encoding":{"y":{"field":"hi","type":"quantitative"}}},
  {"data":{"name":"ks"},"transform":[{"filter":"datum.c==6"}],"mark":{"type":"line","stroke":"#f28027","strokeWidth":2.3,"interpolate":"monotone","clip":true},"encoding":{"y":{"field":"m","type":"quantitative"}}}]},
 {"width":110,"height":140,"encoding":{"x":{"field":"x","type":"quantitative","scale":{"domain":[0,100],"nice":false},"axis":{"values":[0,25,50,75,100],"title":null}}},"layer":[
  {"data":{"name":"fg"},"mark":{"type":"area","fill":"#dcf3d4","stroke":"#4caa46","strokeWidth":0.8,"clip":true},"encoding":{"y":{"field":"lo","type":"quantitative","scale":{"domain":[-57.3,21.1],"nice":false,"zero":false},"axis":{"values":[-40,-20,0,20],"title":"Foot-to-ground angle [°]","titleX":-36,"titleBaseline":"alphabetic"}},"y2":{"field":"hi"}}},
  {"data":{"name":"f"},"transform":[{"filter":"datum.c==1"}],"mark":{"type":"line","stroke":"#a8c4e6","strokeWidth":2.5,"interpolate":"monotone","clip":true},"encoding":{"y":{"field":"lo","type":"quantitative"}}},
  {"data":{"name":"f"},"transform":[{"filter":"datum.c==1"}],"mark":{"type":"line","stroke":"#a8c4e6","strokeWidth":2.5,"interpolate":"monotone","clip":true},"encoding":{"y":{"field":"hi","type":"quantitative"}}},
  {"data":{"name":"f"},"transform":[{"filter":"datum.c==1"}],"mark":{"type":"line","stroke":"#2270b2","strokeWidth":3,"interpolate":"monotone","clip":true},"encoding":{"y":{"field":"m","type":"quantitative"}}}]},
 {"width":110,"height":140,"encoding":{"x":{"field":"x","type":"quantitative","scale":{"domain":[0,100],"nice":false},"axis":{"values":[0,25,50,75,100],"title":null}}},"layer":[
  {"data":{"name":"fg"},"mark":{"type":"area","fill":"#dcf3d4","stroke":"#4caa46","strokeWidth":0.8,"clip":true},"encoding":{"y":{"field":"lo","type":"quantitative","scale":{"domain":[-57.3,21.1],"nice":false,"zero":false},"axis":{"values":[-40,-20,0,20],"title":null,"labels":false}},"y2":{"field":"hi"}}},
  {"data":{"name":"f"},"transform":[{"filter":"datum.c==2"}],"mark":{"type":"line","stroke":"#a8c4e6","strokeWidth":2.5,"interpolate":"monotone","clip":true},"encoding":{"y":{"field":"lo","type":"quantitative"}}},
  {"data":{"name":"f"},"transform":[{"filter":"datum.c==2"}],"mark":{"type":"line","stroke":"#a8c4e6","strokeWidth":2.5,"interpolate":"monotone","clip":true},"encoding":{"y":{"field":"hi","type":"quantitative"}}},
  {"data":{"name":"f"},"transform":[{"filter":"datum.c==2"}],"mark":{"type":"line","stroke":"#2270b2","strokeWidth":3,"interpolate":"monotone","clip":true},"encoding":{"y":{"field":"m","type":"quantitative"}}}]},
 {"width":110,"height":140,"encoding":{"x":{"field":"x","type":"quantitative","scale":{"domain":[0,100],"nice":false},"axis":{"values":[0,25,50,75,100],"title":null}}},"layer":[
  {"data":{"name":"fg"},"mark":{"type":"area","fill":"#dcf3d4","stroke":"#4caa46","strokeWidth":0.8,"clip":true},"encoding":{"y":{"field":"lo","type":"quantitative","scale":{"domain":[-57.3,21.1],"nice":false,"zero":false},"axis":{"values":[-40,-20,0,20],"title":null,"labels":false}},"y2":{"field":"hi"}}},
  {"data":{"name":"f"},"transform":[{"filter":"datum.c==3"}],"mark":{"type":"line","stroke":"#a8c4e6","strokeWidth":2.5,"interpolate":"monotone","clip":true},"encoding":{"y":{"field":"lo","type":"quantitative"}}},
  {"data":{"name":"f"},"transform":[{"filter":"datum.c==3"}],"mark":{"type":"line","stroke":"#a8c4e6","strokeWidth":2.5,"interpolate":"monotone","clip":true},"encoding":{"y":{"field":"hi","type":"quantitative"}}},
  {"data":{"name":"f"},"transform":[{"filter":"datum.c==3"}],"mark":{"type":"line","stroke":"#2270b2","strokeWidth":3,"interpolate":"monotone","clip":true},"encoding":{"y":{"field":"m","type":"quantitative"}}}]},
 {"width":110,"height":140,"encoding":{"x":{"field":"x","type":"quantitative","scale":{"domain":[0,100],"nice":false},"axis":{"values":[0,25,50,75,100],"title":null}}},"layer":[
  {"data":{"name":"fg"},"mark":{"type":"area","fill":"#dcf3d4","stroke":"#4caa46","strokeWidth":0.8,"clip":true},"encoding":{"y":{"field":"lo","type":"quantitative","scale":{"domain":[-57.3,21.1],"nice":false,"zero":false},"axis":{"values":[-40,-20,0,20],"title":null,"labels":false}},"y2":{"field":"hi"}}},
  {"data":{"name":"f"},"transform":[{"filter":"datum.c==4"}],"mark":{"type":"line","stroke":"#a8c4e6","strokeWidth":2.5,"interpolate":"monotone","clip":true},"encoding":{"y":{"field":"lo","type":"quantitative"}}},
  {"data":{"name":"f"},"transform":[{"filter":"datum.c==4"}],"mark":{"type":"line","stroke":"#a8c4e6","strokeWidth":2.5,"interpolate":"monotone","clip":true},"encoding":{"y":{"field":"hi","type":"quantitative"}}},
  {"data":{"name":"f"},"transform":[{"filter":"datum.c==4"}],"mark":{"type":"line","stroke":"#2270b2","strokeWidth":3,"interpolate":"monotone","clip":true},"encoding":{"y":{"field":"m","type":"quantitative"}}}]},
 {"width":110,"height":140,"encoding":{"x":{"field":"x","type":"quantitative","scale":{"domain":[0,100],"nice":false},"axis":{"values":[0,25,50,75,100],"title":null}}},"layer":[
  {"data":{"name":"fg"},"mark":{"type":"area","fill":"#dcf3d4","stroke":"#4caa46","strokeWidth":0.8,"clip":true},"encoding":{"y":{"field":"lo","type":"quantitative","scale":{"domain":[-57.3,21.1],"nice":false,"zero":false},"axis":{"values":[-40,-20,0,20],"title":null,"labels":false}},"y2":{"field":"hi"}}},
  {"data":{"name":"f"},"transform":[{"filter":"datum.c==5"}],"mark":{"type":"line","stroke":"#a8c4e6","strokeWidth":2.5,"interpolate":"monotone","clip":true},"encoding":{"y":{"field":"lo","type":"quantitative"}}},
  {"data":{"name":"f"},"transform":[{"filter":"datum.c==5"}],"mark":{"type":"line","stroke":"#a8c4e6","strokeWidth":2.5,"interpolate":"monotone","clip":true},"encoding":{"y":{"field":"hi","type":"quantitative"}}},
  {"data":{"name":"f"},"transform":[{"filter":"datum.c==5"}],"mark":{"type":"line","stroke":"#2270b2","strokeWidth":3,"interpolate":"monotone","clip":true},"encoding":{"y":{"field":"m","type":"quantitative"}}}]},
 {"width":110,"height":140,"encoding":{"x":{"field":"x","type":"quantitative","scale":{"domain":[0,100],"nice":false},"axis":{"values":[0,25,50,75,100],"title":null}}},"layer":[
  {"data":{"name":"fg"},"mark":{"type":"area","fill":"#dcf3d4","stroke":"#4caa46","strokeWidth":0.8,"clip":true},"encoding":{"y":{"field":"lo","type":"quantitative","scale":{"domain":[-57.3,21.1],"nice":false,"zero":false},"axis":{"values":[-40,-20,0,20],"title":null,"labels":false}},"y2":{"field":"hi"}}},
  {"data":{"name":"f"},"transform":[{"filter":"datum.c==6"}],"mark":{"type":"line","stroke":"#a8c4e6","strokeWidth":2.5,"interpolate":"monotone","clip":true},"encoding":{"y":{"field":"lo","type":"quantitative"}}},
  {"data":{"name":"f"},"transform":[{"filter":"datum.c==6"}],"mark":{"type":"line","stroke":"#a8c4e6","strokeWidth":2.5,"interpolate":"monotone","clip":true},"encoding":{"y":{"field":"hi","type":"quantitative"}}},
  {"data":{"name":"f"},"transform":[{"filter":"datum.c==6"}],"mark":{"type":"line","stroke":"#2270b2","strokeWidth":3,"interpolate":"monotone","clip":true},"encoding":{"y":{"field":"m","type":"quantitative"}}}]},
 {"width":110,"height":70,"encoding":{"x":{"field":"x","type":"quantitative","scale":{"domain":[0,100],"nice":false},"axis":{"values":[0,25,50,75,100],"title":"Heel-off Based GCP [%]","titleFontSize":10.5,"titlePadding":4}}},"layer":[
  {"data":{"name":"fs"},"transform":[{"filter":"datum.c==1"}],"mark":{"type":"line","stroke":"#f28027","strokeWidth":2.3,"clip":true},"encoding":{"y":{"field":"m","type":"quantitative","scale":{"domain":[-1,1],"nice":false,"zero":false},"axis":{"values":[-0.5,0,0.5],"labelExpr":"datum.value==0?'0':''","title":["Foot Stimulation","Control Signal"],"titleX":-47,"titleBaseline":"alphabetic","titleLineHeight":15}}}},
  {"data":{"name":"q"},"transform":[{"filter":"datum.r=='f'"}],"mark":{"type":"text","text":"q","align":"right","baseline":"middle","dx":-21,"dy":4,"fontSize":11,"fill":"#444"},"encoding":{"y":{"field":"y","type":"quantitative"}}},
  {"data":{"name":"q"},"transform":[{"filter":"datum.r=='f'"}],"mark":{"type":"text","align":"left","baseline":"middle","dx":-21,"dy":-4,"fontSize":7.5,"fill":"#444"},"encoding":{"y":{"field":"y","type":"quantitative"},"text":{"field":"sup"}}},
  {"data":{"name":"q"},"transform":[{"filter":"datum.r=='f'"}],"mark":{"type":"text","align":"left","baseline":"middle","dx":-21,"dy":6,"fontSize":7.5,"fill":"#444"},"encoding":{"y":{"field":"y","type":"quantitative"},"text":{"field":"sub"}}}]},
 {"width":110,"height":70,"encoding":{"x":{"field":"x","type":"quantitative","scale":{"domain":[0,100],"nice":false},"axis":{"values":[0,25,50,75,100],"title":"Heel-off Based GCP [%]","titleFontSize":10.5,"titlePadding":4}}},"layer":[
  {"data":{"name":"fs"},"transform":[{"filter":"datum.c==2"}],"mark":{"type":"line","stroke":"#fdcb9c","strokeWidth":2,"interpolate":"monotone","clip":true},"encoding":{"y":{"field":"lo","type":"quantitative","scale":{"domain":[-1,1],"nice":false,"zero":false},"axis":{"values":[-0.5,0,0.5],"labels":false,"title":null}}}},
  {"data":{"name":"fs"},"transform":[{"filter":"datum.c==2"}],"mark":{"type":"line","stroke":"#fdcb9c","strokeWidth":2,"interpolate":"monotone","clip":true},"encoding":{"y":{"field":"hi","type":"quantitative"}}},
  {"data":{"name":"fs"},"transform":[{"filter":"datum.c==2"}],"mark":{"type":"line","stroke":"#f28027","strokeWidth":2.3,"interpolate":"monotone","clip":true},"encoding":{"y":{"field":"m","type":"quantitative"}}}]},
 {"width":110,"height":70,"encoding":{"x":{"field":"x","type":"quantitative","scale":{"domain":[0,100],"nice":false},"axis":{"values":[0,25,50,75,100],"title":"Heel-off Based GCP [%]","titleFontSize":10.5,"titlePadding":4}}},"layer":[
  {"data":{"name":"fs"},"transform":[{"filter":"datum.c==3"}],"mark":{"type":"line","stroke":"#f28027","strokeWidth":2.3,"clip":true},"encoding":{"y":{"field":"m","type":"quantitative","scale":{"domain":[-1,1],"nice":false,"zero":false},"axis":{"values":[-0.5,0,0.5],"labels":false,"title":null}}}}]},
 {"width":110,"height":70,"encoding":{"x":{"field":"x","type":"quantitative","scale":{"domain":[0,100],"nice":false},"axis":{"values":[0,25,50,75,100],"title":"Heel-off Based GCP [%]","titleFontSize":10.5,"titlePadding":4}}},"layer":[
  {"data":{"name":"fs"},"transform":[{"filter":"datum.c==4"}],"mark":{"type":"line","stroke":"#fdcb9c","strokeWidth":2,"interpolate":"monotone","clip":true},"encoding":{"y":{"field":"lo","type":"quantitative","scale":{"domain":[-1,1],"nice":false,"zero":false},"axis":{"values":[-0.5,0,0.5],"labels":false,"title":null}}}},
  {"data":{"name":"fs"},"transform":[{"filter":"datum.c==4"}],"mark":{"type":"line","stroke":"#fdcb9c","strokeWidth":2,"interpolate":"monotone","clip":true},"encoding":{"y":{"field":"hi","type":"quantitative"}}},
  {"data":{"name":"fs"},"transform":[{"filter":"datum.c==4"}],"mark":{"type":"line","stroke":"#f28027","strokeWidth":2.3,"interpolate":"monotone","clip":true},"encoding":{"y":{"field":"m","type":"quantitative"}}}]},
 {"width":110,"height":70,"encoding":{"x":{"field":"x","type":"quantitative","scale":{"domain":[0,100],"nice":false},"axis":{"values":[0,25,50,75,100],"title":"Heel-off Based GCP [%]","titleFontSize":10.5,"titlePadding":4}}},"layer":[
  {"data":{"name":"fs"},"transform":[{"filter":"datum.c==5"}],"mark":{"type":"line","stroke":"#f28027","strokeWidth":2.3,"clip":true},"encoding":{"y":{"field":"m","type":"quantitative","scale":{"domain":[-1,1],"nice":false,"zero":false},"axis":{"values":[-0.5,0,0.5],"labels":false,"title":null}}}}]},
 {"width":110,"height":70,"encoding":{"x":{"field":"x","type":"quantitative","scale":{"domain":[0,100],"nice":false},"axis":{"values":[0,25,50,75,100],"title":"Heel-off Based GCP [%]","titleFontSize":10.5,"titlePadding":4}}},"layer":[
  {"data":{"name":"fs"},"transform":[{"filter":"datum.c==6"}],"mark":{"type":"line","stroke":"#fdcb9c","strokeWidth":2,"interpolate":"monotone","clip":true},"encoding":{"y":{"field":"lo","type":"quantitative","scale":{"domain":[-1,1],"nice":false,"zero":false},"axis":{"values":[-0.5,0,0.5],"labels":false,"title":null}}}},
  {"data":{"name":"fs"},"transform":[{"filter":"datum.c==6"}],"mark":{"type":"line","stroke":"#fdcb9c","strokeWidth":2,"interpolate":"monotone","clip":true},"encoding":{"y":{"field":"hi","type":"quantitative"}}},
  {"data":{"name":"fs"},"transform":[{"filter":"datum.c==6"}],"mark":{"type":"line","stroke":"#f28027","strokeWidth":2.3,"interpolate":"monotone","clip":true},"encoding":{"y":{"field":"m","type":"quantitative"}}}]}
]
}
